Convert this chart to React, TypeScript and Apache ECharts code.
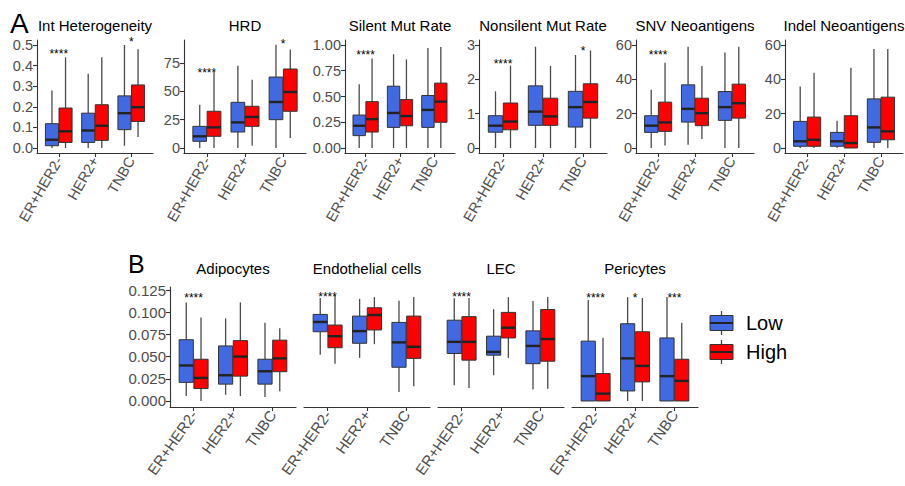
import React, { useEffect, useRef } from 'react';
import * as echarts from 'echarts';

// ---------- data ----------
const CATEGORIES = ['ER+HER2-', 'HER2+', 'TNBC'];
const GROUPS = ['Low', 'High'];
const TOP_TITLES = ['Int Heterogeneity', 'HRD', 'Silent Mut Rate', 'Nonsilent Mut Rate', 'SNV Neoantigens', 'Indel Neoantigens'];
const BOTTOM_TITLES = ['Adipocytes', 'Endothelial cells', 'LEC', 'Pericytes'];

// tick labels
const INT_HET_TICKS = [0, 0.1, 0.2, 0.3, 0.4, 0.5];
const HRD_TICKS = [0, 25, 50, 75];
const SILENT_TICKS = [0, 0.25, 0.5, 0.75, 1];
const NONSILENT_TICKS = [0, 1, 2, 3];
const NEO_TICKS = [0, 20, 40, 60];
const CELL_TICKS = [0, 0.025, 0.05, 0.075, 0.1, 0.125];

// box stats per category: [min, q1, median, q3, max]
const intHetLow = [[0, 0.011, 0.040, 0.118, 0.279], [0, 0.027, 0.085, 0.169, 0.36], [0.011, 0.089, 0.169, 0.253, 0.5]];
const intHetHigh = [[0, 0.027, 0.081, 0.194, 0.44], [0, 0.037, 0.108, 0.21, 0.44], [0.053, 0.129, 0.198, 0.306, 0.479]];
const hrdLow = [[0, 5.9, 10.3, 19.1, 38.2], [0, 14.1, 22.6, 40.3, 72.6], [0, 25, 40.6, 62.6, 91.2]];
const hrdHigh = [[0, 10.3, 18.2, 32.4, 66.8], [2, 19.1, 27.4, 36.8, 60.3], [8.8, 32.4, 49.4, 69.7, 86.8]];
const silentLow = [[0, 0.12, 0.216, 0.32, 0.62], [0, 0.2, 0.34, 0.6, 0.91], [0, 0.2, 0.37, 0.51, 0.97]];
const silentHigh = [[0, 0.155, 0.28, 0.45, 0.87], [0, 0.216, 0.31, 0.47, 0.86], [0, 0.25, 0.45, 0.63, 0.98]];
const nonsilentLow = [[0, 0.46, 0.65, 0.94, 1.65], [0, 0.66, 1.06, 1.81, 2.95], [0, 0.61, 1.19, 1.65, 2.71]];
const nonsilentHigh = [[0, 0.53, 0.77, 1.31, 2.4], [0, 0.66, 0.92, 1.45, 2.39], [0, 0.87, 1.34, 1.87, 2.84]];
const snvLow = [[0, 9.1, 13, 18.8, 33.9], [1.9, 15.1, 22.8, 36.8, 59], [0, 16.1, 23.8, 32.9, 55.7]];
const snvHigh = [[1.4, 9.7, 14.9, 26.7, 49.7], [5.2, 13, 20.3, 29, 47.8], [0, 17.4, 26.1, 37.2, 59]];
const indelLow = [[0, 1, 3.9, 15.5, 35.8], [0, 1, 3.9, 9.1, 15.9], [0, 3.3, 12, 28.6, 57.7]];
const indelHigh = [[0, 1, 4.8, 18, 43.9], [0, 0, 2.9, 18.8, 46.8], [0, 4.8, 9.7, 29.6, 57.7]];
const adipoLow = [[0.0056, 0.021, 0.040, 0.069, 0.111], [0.007, 0.019, 0.029, 0.062, 0.093], [0.0045, 0.019, 0.0335, 0.047, 0.088]];
const adipoHigh = [[0, 0.014, 0.026, 0.047, 0.094], [0.0056, 0.028, 0.05, 0.068, 0.111], [0.011, 0.033, 0.048, 0.0685, 0.082]];
const endoLow = [[0.052, 0.078, 0.089, 0.0975, 0.116], [0.0486, 0.065, 0.0787, 0.0956, 0.115], [0.010, 0.038, 0.066, 0.0885, 0.113]];
const endoHigh = [[0.042, 0.06, 0.073, 0.0855, 0.119], [0.064, 0.08, 0.0968, 0.105, 0.117], [0.0166, 0.048, 0.061, 0.0956, 0.117]];
const lecLow = [[0.0177, 0.0535, 0.0666, 0.091, 0.1156], [0.029, 0.0516, 0.0553, 0.073, 0.1035], [0.013, 0.042, 0.062, 0.079, 0.1126]];
const lecHigh = [[0.0147, 0.046, 0.0666, 0.095, 0.116], [0.0486, 0.071, 0.0825, 0.0998, 0.117], [0.0139, 0.0448, 0.0697, 0.103, 0.117]];
const periLow = [[0, 0, 0.028, 0.0674, 0.1137], [0, 0.0113, 0.048, 0.087, 0.117], [0, 0, 0.028, 0.071, 0.117]];
const periHigh = [[0, 0, 0.0083, 0.0309, 0.0712], [0, 0.0215, 0.0395, 0.078, 0.116], [0, 0, 0.0226, 0.047, 0.088]];

// significance labels: [category number, y value, label]
const intHetStars = [[1, 0.473, '****'], [3, 0.527, '*']];
const hrdStars = [[1, 69, '****'], [3, 94, '*']];
const silentStars = [[1, 0.93, '****']];
const nonsilentStars = [[1, 2.52, '****'], [3, 2.92, '*']];
const snvStars = [[1, 56, '****']];
const indelStars: any[] = [];
const adipoStars = [[1, 0.119, '****']];
const endoStars = [[1, 0.121, '****']];
const lecStars = [[1, 0.121, '****']];
const periStars = [[1, 0.119, '****'], [2, 0.119, '*'], [3, 0.119, '***']];

// ---------- style / layout ----------
const FONT = "'Liberation Sans', Arial, Helvetica, sans-serif";
const BLUE = '#4169E1';
const RED = '#FF0000';
const AXIS = '#333333';
const LABEL = '#4D4D4D';
const BORDER = '#333333';
const WHISKER = '#4A4A4A';
const MEDIAN = '#222222';
const DODGE = 0.1875;
const BOX_W = 0.36;

type Panel = {
  title: string; low: number[][]; high: number[][]; ticks: number[]; decimals: number;
  limits: [number, number]; stars: any[]; left: number; width: number; top: number; height: number;
  showY: boolean; rotate: number; fontSize: number; titleY: number;
};

const TOP = { top: 40, height: 113, titleY: 25, rotate: 60, fontSize: 14.5 };
const BOT = { top: 287, height: 120, titleY: 268, rotate: 55, fontSize: 15 };

const panels: Panel[] = [
  { title: TOP_TITLES[0], low: intHetLow, high: intHetHigh, ticks: INT_HET_TICKS, decimals: 1, limits: [-0.0243, 0.5243], stars: intHetStars, left: 37, width: 116, ...TOP, showY: true },
  { title: TOP_TITLES[1], low: hrdLow, high: hrdHigh, ticks: HRD_TICKS, decimals: 0, limits: [-4.41, 95.29], stars: hrdStars, left: 184, width: 122, ...TOP, showY: true },
  { title: TOP_TITLES[2], low: silentLow, high: silentHigh, ticks: SILENT_TICKS, decimals: 2, limits: [-0.0485, 1.0485], stars: silentStars, left: 345, width: 110, ...TOP, showY: true },
  { title: TOP_TITLES[3], low: nonsilentLow, high: nonsilentHigh, ticks: NONSILENT_TICKS, decimals: 0, limits: [-0.1456, 3.1456], stars: nonsilentStars, left: 479, width: 128, ...TOP, showY: true },
  { title: TOP_TITLES[4], low: snvLow, high: snvHigh, ticks: NEO_TICKS, decimals: 0, limits: [-2.91, 62.91], stars: snvStars, left: 636, width: 118, ...TOP, showY: true },
  { title: TOP_TITLES[5], low: indelLow, high: indelHigh, ticks: NEO_TICKS, decimals: 0, limits: [-2.91, 62.91], stars: indelStars, left: 785, width: 118, ...TOP, showY: true },
  { title: BOTTOM_TITLES[0], low: adipoLow, high: adipoHigh, ticks: CELL_TICKS, decimals: 3, limits: [-0.00676, 0.12838], stars: adipoStars, left: 170, width: 126, ...BOT, showY: true },
  { title: BOTTOM_TITLES[1], low: endoLow, high: endoHigh, ticks: CELL_TICKS, decimals: 3, limits: [-0.00676, 0.12838], stars: endoStars, left: 304, width: 126, ...BOT, showY: false },
  { title: BOTTOM_TITLES[2], low: lecLow, high: lecHigh, ticks: CELL_TICKS, decimals: 3, limits: [-0.00676, 0.12838], stars: lecStars, left: 438, width: 126, ...BOT, showY: false },
  { title: BOTTOM_TITLES[3], low: periLow, high: periHigh, ticks: CELL_TICKS, decimals: 3, limits: [-0.00676, 0.12838], stars: periStars, left: 572, width: 126, ...BOT, showY: false },
];

function boxRenderer(offset: number, color: string) {
  return (params: any, api: any) => {
    const x = api.value(0);
    const unit = api.size([1, 0])[0];
    const cx = api.coord([x, 0])[0] + offset * unit;
    const hw = (BOX_W * unit) / 2;
    const yLo = api.coord([x, api.value(1)])[1];
    const yQ1 = api.coord([x, api.value(2)])[1];
    const yMed = api.coord([x, api.value(3)])[1];
    const yQ3 = api.coord([x, api.value(4)])[1];
    const yHi = api.coord([x, api.value(5)])[1];
    return {
      type: 'group',
      children: [
        { type: 'line', shape: { x1: cx, y1: yHi, x2: cx, y2: yQ3 }, style: { stroke: WHISKER, lineWidth: 1.3 } },
        { type: 'line', shape: { x1: cx, y1: yQ1, x2: cx, y2: yLo }, style: { stroke: WHISKER, lineWidth: 1.3 } },
        { type: 'rect', shape: { x: cx - hw, y: yQ3, width: 2 * hw, height: Math.max(yQ1 - yQ3, 0.5) }, style: { fill: color, stroke: BORDER, lineWidth: 1 } },
        { type: 'line', shape: { x1: cx - hw, y1: yMed, x2: cx + hw, y2: yMed }, style: { stroke: MEDIAN, lineWidth: 2.4 } },
      ],
    };
  };
}

function starRenderer(labels: string[]) {
  return (params: any, api: any) => {
    const p = api.coord([api.value(0), api.value(1)]);
    return {
      type: 'text',
      x: p[0],
      y: p[1] + 3,
      style: { text: labels[params.dataIndex], fontSize: 12, fontFamily: FONT, fill: '#000', textAlign: 'center', textVerticalAlign: 'middle' },
    };
  };
}

function buildOption() {
  const grid: any[] = [];
  const xAxis: any[] = [];
  const yAxis: any[] = [];
  const series: any[] = [];
  const graphic: any[] = [];

  panels.forEach((p, i) => {
    grid.push({ left: p.left, top: p.top, width: p.width, height: p.height, containLabel: false, outerBoundsMode: 'none' });
    xAxis.push({
      type: 'value', gridIndex: i, min: 0.4, max: 3.6,
      axisLine: { show: true, onZero: false, lineStyle: { color: AXIS, width: 1.1 } },
      axisTick: { show: true, customValues: [1, 2, 3], length: 4, lineStyle: { color: AXIS, width: 1.1 } },
      axisLabel: {
        customValues: [1, 2, 3], formatter: (v: number) => CATEGORIES[Math.round(v) - 1] || '',
        rotate: p.rotate, margin: 5, fontSize: p.fontSize, color: LABEL, fontFamily: FONT,
      },
      splitLine: { show: false },
    });
    yAxis.push({
      type: 'value', gridIndex: i, min: p.limits[0], max: p.limits[1],
      axisLine: { show: p.showY, onZero: false, lineStyle: { color: AXIS, width: 1.1 } },
      axisTick: { show: p.showY, customValues: p.ticks, length: 4, lineStyle: { color: AXIS, width: 1.1 } },
      axisLabel: {
        show: p.showY, customValues: p.ticks, formatter: (v: number) => v.toFixed(p.decimals),
        margin: 4, fontSize: p.fontSize, color: LABEL, fontFamily: FONT,
      },
      splitLine: { show: false },
    });
    [p.low, p.high].forEach((stats, g) => {
      series.push({
        type: 'custom', name: GROUPS[g], xAxisIndex: i, yAxisIndex: i, clip: false,
        renderItem: boxRenderer(g === 0 ? -DODGE : DODGE, g === 0 ? BLUE : RED),
        encode: { x: 0, y: [1, 2, 3, 4, 5] },
        data: stats.map((s, c) => [c + 1, ...s]),
      });
    });
    if (p.stars.length) {
      series.push({
        type: 'custom', xAxisIndex: i, yAxisIndex: i, clip: false,
        renderItem: starRenderer(p.stars.map((s: any) => s[2])),
        encode: { x: 0, y: 1 },
        data: p.stars.map((s: any) => [s[0], s[1]]),
      });
    }
    graphic.push({
      type: 'text', x: p.left + p.width / 2, y: p.titleY,
      style: { text: p.title, fontSize: 15, fontFamily: FONT, fill: '#000', textAlign: 'center', textVerticalAlign: 'middle' },
    });
  });

  // panel letters
  graphic.push({ type: 'text', x: 10, y: 23, style: { text: 'A', fontSize: 28, fontFamily: FONT, fill: '#000', textAlign: 'left', textVerticalAlign: 'middle' } });
  graphic.push({ type: 'text', x: 128, y: 264, style: { text: 'B', fontSize: 25, fontFamily: FONT, fill: '#000', textAlign: 'left', textVerticalAlign: 'middle' } });

  // legend
  const keys = [{ name: GROUPS[0], color: BLUE, cy: 323 }, { name: GROUPS[1], color: RED, cy: 352 }];
  keys.forEach((k) => {
    graphic.push({ type: 'line', shape: { x1: 721.5, y1: k.cy - 12, x2: 721.5, y2: k.cy + 12 }, style: { stroke: WHISKER, lineWidth: 1.3 } });
    graphic.push({ type: 'rect', shape: { x: 710, y: k.cy - 7.5, width: 23, height: 15 }, style: { fill: k.color, stroke: BORDER, lineWidth: 1 } });
    graphic.push({ type: 'line', shape: { x1: 710, y1: k.cy, x2: 733, y2: k.cy }, style: { stroke: MEDIAN, lineWidth: 2 } });
    graphic.push({ type: 'text', x: 746, y: k.cy, style: { text: k.name, fontSize: 20, fontFamily: FONT, fill: '#000', textAlign: 'left', textVerticalAlign: 'middle' } });
  });

  return { animation: false, backgroundColor: '#fff', grid, xAxis, yAxis, series, graphic };
}

export default function App() {
  const ref = useRef<HTMLDivElement>(null);
  useEffect(() => {
    if (!ref.current) return;
    const chart = echarts.init(ref.current, null, { renderer: 'svg' });
    chart.setOption(buildOption() as any);
    return () => chart.dispose();
  }, []);
  return <div ref={ref} style={{ position: 'fixed', left: 0, top: 0, width: 905, height: 486 }} />;
}
